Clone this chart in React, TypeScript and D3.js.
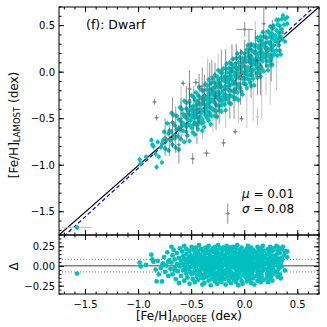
import * as d3 from 'd3';
import { useEffect, useRef } from 'react';

// ---- data ----

// APOGEE [Fe/H] of the dwarfs (cyan), and LAMOST - APOGEE for each of them
const apogeeFeH = [
  -1.58, -0.99, -0.98, -0.93,
  -0.88, -0.87, -0.86, -0.84, -0.83, -0.82, -0.81,
  -0.79, -0.78, -0.77, -0.76, -0.75, -0.74, -0.73, -0.72, -0.71, -0.70,
  -0.69, -0.69, -0.68, -0.68, -0.67, -0.66, -0.66, -0.65, -0.64, -0.64, -0.63, -0.62, -0.62, -0.61, -0.61, -0.60,
  -0.60, -0.59, -0.59, -0.58, -0.58, -0.57, -0.57, -0.56, -0.56, -0.55, -0.55, -0.55, -0.54, -0.54, -0.53, -0.53, -0.52, -0.52, -0.52, -0.51, -0.51, -0.50, -0.50, -0.50,
  -0.49, -0.49, -0.49, -0.48, -0.48, -0.48, -0.47, -0.47, -0.47, -0.46, -0.46, -0.46, -0.45, -0.45, -0.45, -0.44, -0.44, -0.44, -0.43, -0.43, -0.43, -0.42, -0.42, -0.42, -0.41, -0.41, -0.41, -0.40, -0.40, -0.40,
  -0.39, -0.39, -0.39, -0.38, -0.38, -0.38, -0.38, -0.37, -0.37, -0.37, -0.36, -0.36, -0.36, -0.36, -0.35, -0.35, -0.35, -0.34, -0.34, -0.34, -0.34, -0.33, -0.33, -0.33, -0.32, -0.32, -0.32, -0.32, -0.31, -0.31, -0.31, -0.30, -0.30, -0.30,
  -0.29, -0.29, -0.29, -0.29, -0.28, -0.28, -0.28, -0.28, -0.27, -0.27, -0.27, -0.27, -0.26, -0.26, -0.26, -0.26, -0.25, -0.25, -0.25, -0.25,
  -0.24, -0.24, -0.24, -0.24, -0.23, -0.23, -0.23, -0.23, -0.22, -0.22, -0.22, -0.22, -0.21, -0.21, -0.21, -0.20, -0.20, -0.20,
  -0.19, -0.19, -0.19, -0.19, -0.18, -0.18, -0.18, -0.18, -0.17, -0.17, -0.17, -0.17, -0.16, -0.16, -0.16, -0.16, -0.15, -0.15, -0.15, -0.15,
  -0.14, -0.14, -0.14, -0.14, -0.13, -0.13, -0.13, -0.13, -0.12, -0.12, -0.12, -0.12, -0.11, -0.11, -0.11, -0.10, -0.10, -0.10,
  -0.09, -0.09, -0.09, -0.09, -0.08, -0.08, -0.08, -0.08, -0.07, -0.07, -0.07, -0.07, -0.06, -0.06, -0.06, -0.06, -0.05, -0.05, -0.05, -0.05,
  -0.04, -0.04, -0.04, -0.04, -0.03, -0.03, -0.03, -0.03, -0.02, -0.02, -0.02, -0.02, -0.01, -0.01, -0.01, 0.00, 0.00, 0.00,
  0.01, 0.01, 0.01, 0.01, 0.02, 0.02, 0.02, 0.02, 0.03, 0.03, 0.03, 0.03, 0.04, 0.04, 0.04, 0.04, 0.05, 0.05, 0.05, 0.05,
  0.06, 0.06, 0.06, 0.06, 0.07, 0.07, 0.07, 0.07, 0.08, 0.08, 0.08, 0.08, 0.09, 0.09, 0.09, 0.09,
  0.11, 0.11, 0.11, 0.11, 0.12, 0.12, 0.12, 0.12, 0.13, 0.13, 0.13, 0.13, 0.14, 0.14, 0.14, 0.14,
  0.15, 0.15, 0.15, 0.15, 0.16, 0.16, 0.16, 0.16, 0.17, 0.17, 0.17, 0.17, 0.18, 0.18, 0.18, 0.18,
  0.21, 0.21, 0.21, 0.21, 0.22, 0.22, 0.22, 0.22, 0.23, 0.23, 0.23, 0.23, 0.24, 0.24, 0.24, 0.24,
  0.25, 0.25, 0.25, 0.25, 0.26, 0.26, 0.26, 0.26, 0.27, 0.27, 0.27, 0.27,
  0.30, 0.30, 0.30, 0.31, 0.31, 0.31, 0.32, 0.32, 0.32, 0.33, 0.33, 0.34, 0.34, 0.35, 0.35, 0.36, 0.37, 0.38, 0.38, 0.40, 0.40,
  -0.58, -0.55, -0.53, -0.51, -0.49, -0.47, -0.45, -0.43, -0.41, -0.39,
  -0.37, -0.35, -0.33, -0.31, -0.29, -0.27, -0.25, -0.23, -0.21, -0.19,
  -0.17, -0.15, -0.13, -0.11, -0.09, -0.07, -0.05, -0.03, -0.01, 0.01,
  0.03, 0.05, 0.07, 0.09, 0.10, 0.12, 0.14, 0.16, 0.18, 0.19,
  0.20, 0.22, 0.24, 0.26, 0.28, 0.29, 0.28, 0.19, 0.10, 0.00,
  -0.10, -0.20, -0.30, -0.40, -0.50, -0.45, -0.35, -0.25, -0.15, -0.05,
  0.05, 0.15, 0.25, 0.32, 0.35, -0.62, -0.66, -0.72, -0.78, -0.57,
  0.27, 0.30, 0.35, 0.24,
];
const deltaFeH = [
  -0.09, 0.05, 0.00, 0.02,
  0.15, 0.09, 0.06, -0.04, -0.19, 0.07, -0.10,
  -0.02, -0.19, 0.04, 0.12, -0.07, 0.01, 0.18, -0.12, 0.08, -0.03,
  0.25, 0.05, -0.10, 0.14, 0.21, -0.02, 0.09, -0.16, 0.03, 0.17, -0.06, 0.11, -0.21, 0.00, 0.23, 0.07,
  -0.12, 0.19, 0.02, -0.05, 0.13, 0.26, -0.18, 0.08, -0.01, 0.16, -0.09, 0.22, 0.04, -0.14, 0.11, -0.03, 0.20, 0.06, -0.22, 0.14, -0.07, 0.01, 0.25, 0.09,
  -0.16, 0.12, 0.03, 0.21, -0.08, 0.07, -0.02, 0.17, -0.20, 0.10, 0.00, 0.24, -0.12, 0.14, 0.05, -0.05, 0.19, -0.17, 0.09, -0.10, 0.27, 0.02, 0.15, -0.06, 0.22, -0.14, 0.06, -0.01, 0.12, -0.23,
  0.08, -0.15, 0.19, -0.04, 0.13, -0.21, 0.03, 0.24, -0.09, 0.10, -0.02, 0.17, -0.13, 0.06, 0.21, -0.07, 0.01, -0.18, 0.11, 0.26, -0.03, 0.15, -0.11, 0.04, -0.24, 0.08, 0.20, -0.06, 0.12, -0.16, 0.02, 0.23, -0.01, -0.10,
  -0.12, 0.07, 0.18, -0.03, 0.25, -0.19, 0.02, 0.12, -0.08, 0.15, -0.15, 0.05, 0.21, -0.01, -0.22, 0.10, 0.04, -0.11, 0.17, 0.27,
  -0.06, 0.13, -0.17, 0.01, 0.09, 0.23, -0.13, -0.04, 0.16, -0.20, 0.06, -0.09, 0.20, 0.00, -0.14, 0.11, -0.07, 0.24,
  0.03, -0.16, 0.14, -0.05, 0.22, -0.10, 0.08, -0.23, 0.01, 0.17, -0.08, 0.26, -0.13, 0.11, -0.02, 0.05, 0.19, -0.18, 0.07, -0.04,
  0.13, -0.11, 0.24, 0.00, -0.07, 0.16, -0.21, 0.09, 0.04, -0.14, 0.20, -0.01, 0.12, -0.09, 0.25, -0.17, 0.06, 0.15,
  -0.03, 0.18, -0.12, 0.08, 0.23, -0.20, 0.02, 0.13, -0.06, 0.10, -0.15, 0.27, 0.05, -0.10, 0.16, -0.24, 0.00, 0.21, -0.08, 0.11,
  -0.13, 0.07, 0.19, -0.02, 0.14, -0.18, 0.03, 0.24, -0.05, 0.09, -0.22, 0.17, 0.01, -0.11, 0.12, 0.20, -0.07, 0.06,
  -0.14, 0.15, 0.04, -0.03, 0.22, -0.09, 0.10, -0.19, 0.02, 0.18, -0.06, 0.26, -0.12, 0.08, -0.01, 0.13, 0.20, -0.16, 0.05, -0.08,
  0.11, -0.04, 0.24, -0.21, 0.01, 0.16, -0.10, 0.07, -0.15, 0.21, 0.03, -0.05, 0.12, -0.23, 0.19, 0.00,
  0.09, -0.12, 0.17, -0.02, 0.25, -0.07, 0.04, -0.18, 0.13, -0.04, 0.21, -0.10, 0.00, 0.15, -0.15, 0.07,
  0.23, -0.08, 0.10, -0.20, 0.03, 0.18, -0.12, 0.06, -0.05, 0.14, 0.26, -0.01, 0.11, -0.17, 0.20, 0.02,
  -0.09, 0.16, 0.05, -0.14, 0.22, -0.03, 0.10, -0.20, 0.01, 0.19, -0.11, 0.08, 0.14, -0.06, 0.25, -0.16,
  0.04, -0.12, 0.17, -0.01, 0.21, -0.08, 0.11, -0.18, -0.04, 0.13, 0.02, 0.23,
  0.15, -0.07, 0.06, -0.13, 0.20, 0.01, 0.10, -0.03, 0.24, -0.10, 0.17, 0.04, -0.15, 0.22, 0.08, 0.25, 0.14, 0.19, -0.05, 0.12, 0.19,
  0.03, -0.04, 0.08, -0.01, 0.05, -0.07, 0.02, 0.10, -0.03, 0.06,
  -0.05, 0.09, 0.00, -0.08, 0.04, 0.11, -0.02, 0.07, -0.06, 0.03,
  0.10, -0.04, 0.06, 0.01, -0.09, 0.05, -0.01, 0.08, -0.05, 0.03,
  -0.02, 0.09, -0.06, 0.04, -0.01, 0.07, -0.08, 0.02, 0.10, -0.03,
  0.05, -0.05, 0.08, 0.00, 0.06, 0.10, -0.09, 0.12, 0.12, 0.12,
  -0.11, -0.10, 0.12, -0.11, -0.10, 0.12, -0.12, 0.12, -0.12, -0.12,
  0.12, 0.11, -0.11, 0.05, 0.00, 0.02, -0.05, 0.06, 0.01, 0.10,
  0.21, 0.26, 0.11, 0.07,
];
// typical uncertainties of the cyan stars
const errApogee = 0.02;
const errLamost = 0.03;

// grey stars with their error bars: [APOGEE, LAMOST, err APOGEE, err LAMOST]
const greyStars = [
  [-0.85, -0.32, 0.02, 0.03], [-0.83, -0.49, 0.02, 0.03], [-0.58, -0.12, 0.02, 0.03],
  [-0.46, -0.11, 0.03, 0.04], [-0.49, -0.93, 0.02, 0.06], [-0.36, -0.87, 0.03, 0.04],
  [-0.09, -0.64, 0.02, 0.03], [-0.16, -1.52, 0.02, 0.11], [0.00, 0.46, 0.08, 0.08],
  [0.18, 0.52, 0.02, 0.17], [0.26, 0.50, 0.02, 0.06], [-0.03, -0.50, 0.02, 0.03],
  [-0.20, -0.76, 0.02, 0.04], [-0.62, -0.78, 0.02, 0.20], [-0.71, -0.72, 0.02, 0.18],
  [-0.52, -0.30, 0.02, 0.18], [-0.40, -0.15, 0.02, 0.20], [-0.31, -0.05, 0.02, 0.18],
  [-0.22, 0.02, 0.02, 0.22], [-0.12, 0.14, 0.02, 0.16], [0.04, 0.28, 0.02, 0.18],
  [-0.45, -0.55, 0.02, 0.22], [-0.27, -0.42, 0.02, 0.20], [-0.10, -0.30, 0.02, 0.20],
  [0.12, -0.05, 0.02, 0.20],
  [-0.75, -0.70, 0.02, 0.20], [-0.68, -0.54, 0.02, 0.27], [-0.65, -0.62, 0.02, 0.25],
  [-0.60, -0.50, 0.02, 0.22], [-0.55, -0.45, 0.02, 0.30], [-0.52, -0.18, 0.02, 0.20],
  [-0.48, -0.40, 0.02, 0.25], [-0.43, -0.30, 0.02, 0.28], [-0.38, -0.25, 0.02, 0.22],
  [-0.33, -0.20, 0.02, 0.30], [-0.28, -0.15, 0.02, 0.25], [-0.24, -0.30, 0.02, 0.25],
  [-0.18, -0.05, 0.02, 0.30], [-0.14, -0.20, 0.02, 0.30], [-0.08, 0.05, 0.02, 0.25],
  [-0.04, -0.05, 0.02, 0.30], [0.00, 0.10, 0.02, 0.25], [0.06, 0.02, 0.02, 0.30],
  [0.10, 0.20, 0.02, 0.25], [0.15, 0.05, 0.02, 0.30], [0.20, 0.25, 0.02, 0.20],
  [0.25, 0.15, 0.02, 0.25], [0.33, 0.35, 0.02, 0.15],
];
// faint (low S/N) stars
const paleStars = [
  [0.02, -0.15, 0.02, 0.45], [0.08, -0.10, 0.02, 0.42], [0.16, -0.05, 0.02, 0.45],
  [0.24, 0.05, 0.02, 0.40], [0.30, 0.10, 0.02, 0.30], [-0.06, -0.20, 0.02, 0.35],
  [-0.18, -0.30, 0.02, 0.30], [-0.30, -0.40, 0.02, 0.25], [-0.40, -0.50, 0.02, 0.22],
  [0.12, -0.48, 0.02, 0.10], [-0.60, -0.40, 0.02, 0.25], [-0.35, -0.10, 0.02, 0.25],
  [0.10, 0.30, 0.02, 0.25], [0.20, 0.10, 0.02, 0.35], [-0.25, -0.10, 0.02, 0.30],
  [-1.58, -1.67, 0.14, 0.02],
];

// linear fit and residual statistics
const fitSlope = 1.045;
const fitIntercept = 0.017;
const mu = 0.01;
const sigma = 0.08;

const xTicks = [-1.5, -1.0, -0.5, 0.0, 0.5];
const yTicks = [-1.5, -1.0, -0.5, 0.0, 0.5];
const dTicks = [-0.25, 0.0, 0.25];

const W = 327;
const H = 327;
const FONT = 'DejaVu Sans, sans-serif';

export default function App() {
  const svgRef = useRef<SVGSVGElement>(null);

  useEffect(() => {
    if (!svgRef.current) return;
    const svg = d3.select(svgRef.current);
    svg.selectAll('*').remove();

    const left = 59, right = 319, top = 7, mid = 235, bottom = 294;

    const x = d3.scaleLinear().domain([-1.75, 0.7]).range([left, right]);
    const yTop = d3.scaleLinear().domain([-1.75, 0.7]).range([mid, top]);
    const yBot = d3.scaleLinear().domain([-0.35, 0.4]).range([bottom, mid]);

    const defs = svg.append('defs');
    defs.append('clipPath').attr('id', 'clipTop')
      .append('rect').attr('x', left).attr('y', top).attr('width', right - left).attr('height', mid - top);
    defs.append('clipPath').attr('id', 'clipBot')
      .append('rect').attr('x', left).attr('y', mid).attr('width', right - left).attr('height', bottom - mid);

    const gTop = svg.append('g').attr('clip-path', 'url(#clipTop)');
    const gBot = svg.append('g').attr('clip-path', 'url(#clipBot)');

    // 1:1 line and fit
    const line = d3.line<number>().x(v => x(v)).y(v => yTop(v));
    gTop.append('path').datum([-1.75, 0.7]).attr('d', line)
      .attr('stroke', '#000').attr('stroke-width', 1.2).attr('fill', 'none');
    const fitLine = d3.line<number>().x(v => x(v)).y(v => yTop(fitSlope * v + fitIntercept));
    gTop.append('path').datum([-1.75, 0.7]).attr('d', fitLine)
      .attr('stroke', '#0000ff').attr('stroke-width', 1.2).attr('stroke-dasharray', '4,2.5').attr('fill', 'none');

    const errorBars = (g: any, rows: number[][], color: string, width: number) => {
      rows.forEach(([a, l, ea, el]) => {
        g.append('line').attr('x1', x(a)).attr('x2', x(a)).attr('y1', yTop(l - el)).attr('y2', yTop(l + el))
          .attr('stroke', color).attr('stroke-width', width);
        g.append('line').attr('x1', x(a - ea)).attr('x2', x(a + ea)).attr('y1', yTop(l)).attr('y2', yTop(l))
          .attr('stroke', color).attr('stroke-width', width);
      });
    };

    errorBars(gTop, paleStars, '#c4c4c4', 1);

    const cyan = apogeeFeH.map((a, i) => [a, a + deltaFeH[i], errApogee, errLamost]);
    errorBars(gTop, cyan, '#00bfbf', 0.8);
    gTop.selectAll('circle.c').data(cyan).enter().append('circle')
      .attr('cx', d => x(d[0])).attr('cy', d => yTop(d[1])).attr('r', 2.0).attr('fill', '#00bfbf');

    errorBars(gTop, greyStars, 'rgba(70,70,70,0.6)', 1);
    gTop.selectAll('circle.g').data(greyStars).enter().append('circle')
      .attr('cx', d => x(d[0])).attr('cy', d => yTop(d[1])).attr('r', 1.2).attr('fill', '#808080');

    // residual panel
    gBot.append('line').attr('x1', left).attr('x2', right).attr('y1', yBot(mu)).attr('y2', yBot(mu))
      .attr('stroke', '#808080').attr('stroke-width', 1.5);
    [mu - sigma, mu + sigma].forEach(v => {
      gBot.append('line').attr('x1', left).attr('x2', right).attr('y1', yBot(v)).attr('y2', yBot(v))
        .attr('stroke', '#808080').attr('stroke-width', 1).attr('stroke-dasharray', '1,2');
    });
    gBot.selectAll('circle').data(apogeeFeH).enter().append('circle')
      .attr('cx', d => x(d)).attr('cy', (d, i) => yBot(deltaFeH[i])).attr('r', 2.4).attr('fill', '#00bfbf');

    // frames and inward ticks
    const frame = (y0: number, y1: number) => {
      svg.append('rect').attr('x', left).attr('y', y0).attr('width', right - left).attr('height', y1 - y0)
        .attr('fill', 'none').attr('stroke', '#000').attr('stroke-width', 1);
    };
    frame(top, mid);
    frame(mid, bottom);

    const tick = (x1: number, y1: number, x2: number, y2: number) => {
      svg.append('line').attr('x1', x1).attr('y1', y1).attr('x2', x2).attr('y2', y2)
        .attr('stroke', '#000').attr('stroke-width', 1);
    };
    const xMinor = d3.range(-17, 8).map(v => v / 10);
    const yMinor = d3.range(-17, 8).map(v => v / 10);
    const dMinor = d3.range(-7, 9).map(v => v / 20);
    [[top, mid], [mid, bottom]].forEach(([y0, y1]) => {
      xMinor.forEach(v => { tick(x(v), y0, x(v), y0 + 2.5); tick(x(v), y1, x(v), y1 - 2.5); });
      xTicks.forEach(v => { tick(x(v), y0, x(v), y0 + 5); tick(x(v), y1, x(v), y1 - 5); });
    });
    yMinor.forEach(v => { tick(left, yTop(v), left + 2.5, yTop(v)); tick(right, yTop(v), right - 2.5, yTop(v)); });
    yTicks.forEach(v => { tick(left, yTop(v), left + 5, yTop(v)); tick(right, yTop(v), right - 5, yTop(v)); });
    dMinor.forEach(v => { tick(left, yBot(v), left + 2.5, yBot(v)); tick(right, yBot(v), right - 2.5, yBot(v)); });
    dTicks.forEach(v => { tick(left, yBot(v), left + 5, yBot(v)); tick(right, yBot(v), right - 5, yBot(v)); });

    const fmt = (v: number, n: number) => d3.format(`.${n}f`)(v).replace('-', '\u2212');
    const label = (t: string, px: number, py: number, anchor: string, size = 10) =>
      svg.append('text').attr('x', px).attr('y', py).attr('text-anchor', anchor)
        .attr('dominant-baseline', 'central').attr('font-family', FONT).attr('font-size', size).text(t);

    xTicks.forEach(v => label(fmt(v, 1), x(v), 304, 'middle'));
    yTicks.forEach(v => label(fmt(v, 1), left - 4, yTop(v), 'end'));
    dTicks.forEach(v => label(fmt(v, 2), left - 4, yBot(v), 'end'));

    // axis titles
    const xt = svg.append('text').attr('x', (left + right) / 2).attr('y', 320).attr('text-anchor', 'middle')
      .attr('font-family', FONT).attr('font-size', 12);
    xt.append('tspan').text('[Fe/H]');
    xt.append('tspan').attr('font-size', 8.5).attr('dy', 1.5).text('APOGEE');
    xt.append('tspan').attr('dy', -1.5).text(' (dex)');

    const yt = svg.append('text').attr('transform', `translate(18,${(top + mid) / 2 + 4}) rotate(-90)`)
      .attr('text-anchor', 'middle').attr('font-family', FONT).attr('font-size', 12);
    yt.append('tspan').text('[Fe/H]');
    yt.append('tspan').attr('font-size', 8.5).attr('dy', 1.5).text('LAMOST');
    yt.append('tspan').attr('dy', -1.5).text(' (dex)');

    svg.append('text').attr('transform', `translate(18,${yBot(0)}) rotate(-90)`)
      .attr('text-anchor', 'middle').attr('font-family', FONT).attr('font-size', 12).text('\u0394');

    label('(f): Dwarf', 86, 24, 'start', 12.5);

    const stat = (sym: string, val: number, py: number) => {
      const t = svg.append('text').attr('x', 242).attr('y', py).attr('dominant-baseline', 'central')
        .attr('font-family', FONT).attr('font-size', 12);
      t.append('tspan').attr('font-style', 'italic').text(sym);
      t.append('tspan').text(` = ${val.toFixed(2)}`);
    };
    stat('\u03bc', mu, 194);
    stat('\u03c3', sigma, 209);
  }, []);

  return (
    <div style={{ position: 'fixed', left: 0, top: 0 }}>
      <svg ref={svgRef} width={W} height={H} style={{ display: 'block', background: '#fff' }} />
    </div>
  );
}
